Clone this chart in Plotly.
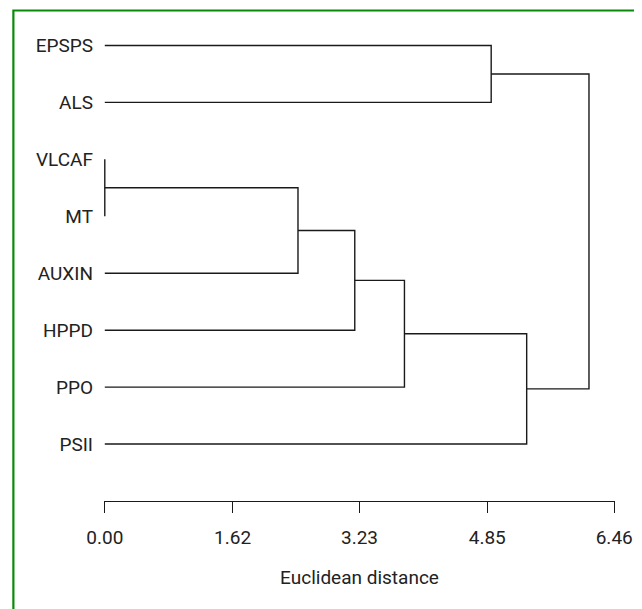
import plotly.graph_objects as go

# ---- data ----
labels = ["EPSPS", "ALS", "VLCAF", "MT", "AUXIN", "HPPD", "PPO", "PSII"]
# linkage: cluster ids 0..7 are leaves, new clusters start at 8
merge_left = [2, 8, 9, 10, 0, 11, 12]
merge_right = [3, 4, 5, 6, 1, 7, 13]
merge_height = [0.00, 2.45, 3.17, 3.80, 4.90, 5.35, 6.14]
tick_values = [0.00, 1.62, 3.23, 4.85, 6.46]
tick_labels = ["0.00", "1.62", "3.23", "4.85", "6.46"]
axis_title = "Euclidean distance"

# ---- build dendrogram segments ----
pos_y = {i: float(i) for i in range(len(labels))}
pos_x = {i: 0.0 for i in range(len(labels))}
xs, ys = [], []
for k, (a, b, h) in enumerate(zip(merge_left, merge_right, merge_height)):
    cid = len(labels) + k
    xs += [pos_x[a], h, h, pos_x[b], None]
    ys += [pos_y[a], pos_y[a], pos_y[b], pos_y[b], None]
    pos_x[cid] = h
    pos_y[cid] = (pos_y[a] + pos_y[b]) / 2

font_family = "Roboto, 'Open Sans', sans-serif"
text_color = "#222222"

fig = go.Figure()
fig.add_trace(go.Scatter(
    x=xs, y=ys, mode="lines",
    line=dict(color="#1a1a1a", width=1.4),
    hoverinfo="skip", showlegend=False,
))

W, H = 634, 601
ml, mr, mt, mb = 96, 22, 9, 108
pw, ph = W - ml - mr, H - mt - mb

def px_to_paper_x(px):
    return (px - ml) / pw

def px_to_paper_y(py):
    return (H - mb - py) / ph

fig.add_shape(
    type="rect", xref="paper", yref="paper",
    x0=px_to_paper_x(4.5), x1=px_to_paper_x(700),
    y0=px_to_paper_y(700), y1=px_to_paper_y(2.5),
    line=dict(color="#0a8a0a", width=2.2), fillcolor="rgba(0,0,0,0)",
    layer="below",
)

fig.update_layout(
    width=W, height=H,
    margin=dict(l=ml, r=mr, t=mt, b=mb),
    paper_bgcolor="white", plot_bgcolor="white",
    font=dict(family=font_family, size=19, color=text_color),
    showlegend=False,
    xaxis=dict(
        range=[-0.01, 6.47],
        tickmode="array", tickvals=tick_values, ticktext=tick_labels,
        showline=True, linecolor="#1a1a1a", linewidth=1.4,
        ticks="outside", ticklen=11, tickwidth=1.4, tickcolor="#1a1a1a",
        ticklabelstandoff=8,
        showgrid=False, zeroline=False,
        title=dict(text=axis_title, standoff=22, font=dict(size=19)),
        fixedrange=True,
    ),
    yaxis=dict(
        range=[8.0, -0.5],
        tickmode="array", tickvals=list(range(len(labels))), ticktext=labels,
        showline=False, showgrid=False, zeroline=False,
        ticks="", ticklabelstandoff=10,
        fixedrange=True,
    ),
)

fig.write_html("out.html")
